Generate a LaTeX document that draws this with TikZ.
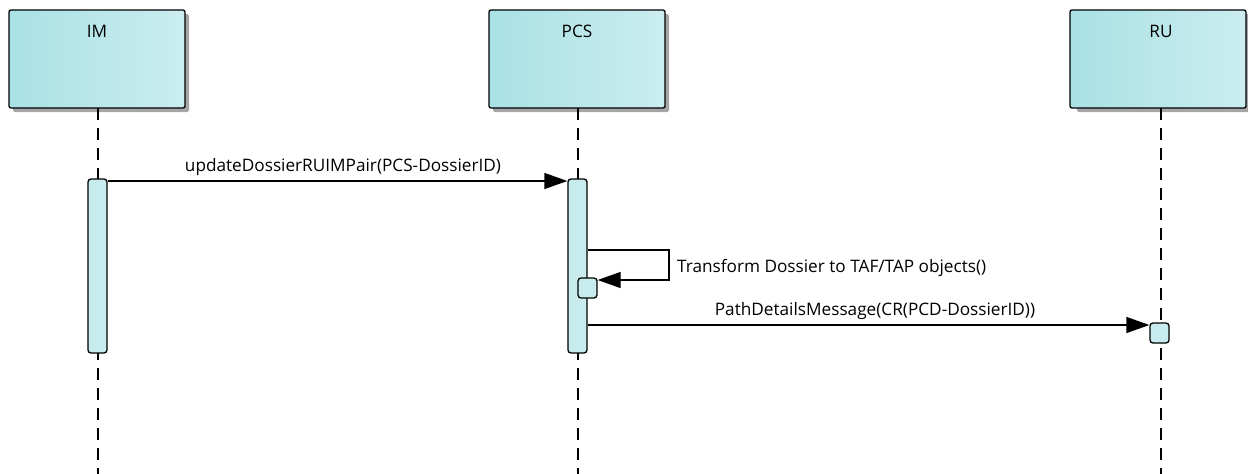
\documentclass[tikz,border=0pt]{standalone}
\usepackage{fontspec}
\setmainfont{Open Sans}
\usetikzlibrary{arrows.meta,calc}
\definecolor{headL}{HTML}{A9E1E5}
\definecolor{headR}{HTML}{CBEDEF}
\definecolor{actfill}{HTML}{C8ECEE}
\tikzset{
  x=1pt,y=-1pt,
  head/.style={draw=black,line width=1.3pt,rounded corners=2pt,minimum width=176pt,minimum height=98pt,
     left color=headL,right color=headR,inner sep=0pt},
  headshadow/.style={fill=black!35,rounded corners=2pt},
  lifeline/.style={line width=1.2pt,dash pattern=on 12pt off 8pt},
  act/.style={draw=black,line width=1.3pt,fill=actfill,rounded corners=3pt,inner sep=0pt},
  msg/.style={line width=1.3pt,-{Triangle[length=23pt,width=16pt]}},
  lbl/.style={font=\fontsize{17.2}{19}\selectfont,inner sep=0pt}
}
\begin{document}
\begin{tikzpicture}
\useasboundingbox (0,0) rectangle (1248,474);
% shadows
\fill[headshadow] (13,14) rectangle (189,112);
\fill[headshadow] (493,14) rectangle (669,112);
\fill[headshadow] (1077,14) rectangle (1250,112);
% headers
\node[head] (im) at (97,59) {};
\node[head] (pcs) at (577,59) {};
\node[head] (ru) at (1158,59) {};
\node[lbl] at (97,31) {IM};
\node[lbl] at (577,31) {PCS};
\node[lbl] at (1161,31) {RU};
% lifelines
\coordinate (imE) at (98,474);
\coordinate (pcsE) at (578,474);
\coordinate (ruE) at (1161,474);
\draw[lifeline] (98,108) -- (imE);
\draw[lifeline] (578,108) -- (pcsE);
\draw[lifeline] (1161,108) -- (ruE);
% activations
\node[act,minimum width=19pt,minimum height=174pt] (imA) at (97.5,266) {};
\node[act,minimum width=19pt,minimum height=174pt] (pcsA) at (577.5,266) {};
\node[act,minimum width=19pt,minimum height=20pt] (pcsB) at (587.5,288) {};
\node[act,minimum width=19pt,minimum height=20pt] (ruA) at (1159.5,333) {};
% message 1
\draw[msg] (imA.east |- 0,181) -- (pcsA.west |- 0,181);
\node[lbl] at (343,167) {updateDossierRUIMPair(PCS-DossierID)};
% self message
\coordinate (selfR1) at (669,250);
\coordinate (selfR2) at (669,280);
\draw[line width=1.3pt,-{Triangle[length=23pt,width=16pt]}] (pcsA.east |- 0,250) -- (selfR1) -- (selfR2) -- (pcsB.east |- 0,280);
\node[lbl,anchor=west] at (677,268) {Transform Dossier to TAF/TAP objects()};
% message 3
\draw[msg] (pcsA.east |- 0,325) -- (ruA.west |- 0,325);
\node[lbl] at (875,311) {PathDetailsMessage(CR(PCD-DossierID))};
\end{tikzpicture}
\end{document}
